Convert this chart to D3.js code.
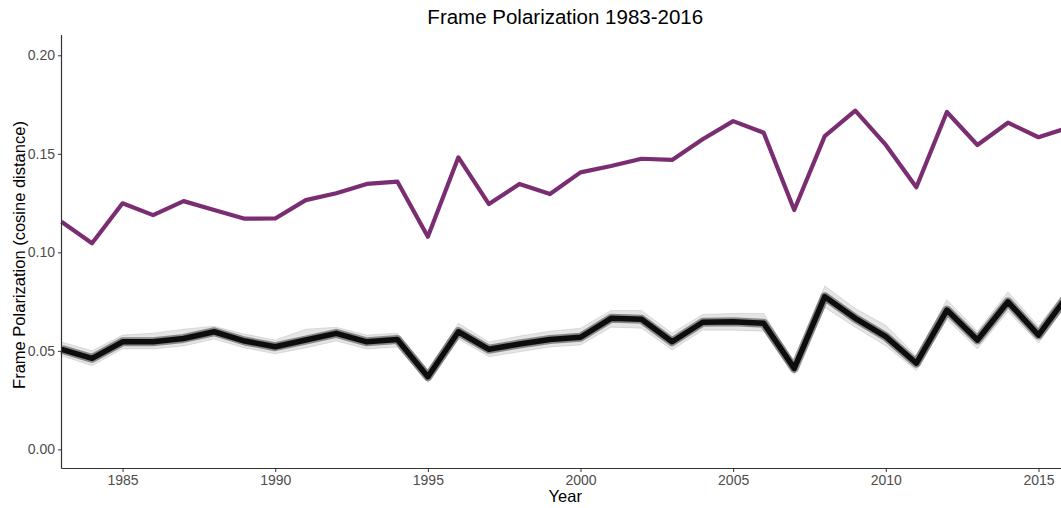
<!DOCTYPE html>
<html>
<head>
<meta charset="utf-8">
<script src="https://cdn.jsdelivr.net/npm/d3@7"></script>
<style>
  html, body { margin: 0; padding: 0; background: #fff; }
  svg { display: block; overflow: hidden; font-family: "Liberation Sans", Arial, sans-serif; }
</style>
</head>
<body>
<div id="chart"></div>
<script>
// years 1983-2016
const years = d3.range(1983, 2017)

// observed frame polarization (purple)
const observed = [0.1155, 0.1046, 0.1249, 0.1189, 0.1260, 0.1215, 0.1171, 0.1172, 0.1265, 0.1300, 0.1347, 0.1359,
  0.1079, 0.1482, 0.1245, 0.1347, 0.1296, 0.1406, 0.1438, 0.1475, 0.1469, 0.1574, 0.1666, 0.1607,
  0.1215, 0.1590, 0.1719, 0.1545, 0.1330, 0.1712, 0.1545, 0.1658, 0.1584, 0.1634]

// permutation bundle: centre line and faint envelope (black)
const permCenter = [0.0508, 0.0462, 0.0546, 0.0546, 0.0563, 0.0597, 0.0550, 0.0521, 0.0555, 0.0589, 0.0546, 0.0558,
  0.0369, 0.0597, 0.0508, 0.0535, 0.0558, 0.0569, 0.0665, 0.0660, 0.0546, 0.0645, 0.0648, 0.0640,
  0.0411, 0.0775, 0.0665, 0.0572, 0.0437, 0.0707, 0.0555, 0.0749, 0.0580, 0.0790]
const permHigh = [0.0545, 0.0500, 0.0580, 0.0590, 0.0610, 0.0625, 0.0585, 0.0555, 0.0610, 0.0620, 0.0580, 0.0590,
  0.0400, 0.0640, 0.0545, 0.0575, 0.0600, 0.0615, 0.0705, 0.0705, 0.0590, 0.0685, 0.0690, 0.0690,
  0.0440, 0.0830, 0.0715, 0.0630, 0.0475, 0.0760, 0.0600, 0.0800, 0.0625, 0.0830]
const permLow = [0.0475, 0.0425, 0.0510, 0.0510, 0.0525, 0.0560, 0.0515, 0.0485, 0.0515, 0.0550, 0.0510, 0.0520,
  0.0340, 0.0560, 0.0470, 0.0495, 0.0520, 0.0530, 0.0620, 0.0615, 0.0505, 0.0605, 0.0605, 0.0600,
  0.0380, 0.0720, 0.0620, 0.0525, 0.0400, 0.0660, 0.0510, 0.0700, 0.0540, 0.0750]

const xTicks = [1985, 1990, 1995, 2000, 2005, 2010, 2015]
const yTicks = [0.00, 0.05, 0.10, 0.15, 0.20]

const W = 1061, H = 508
// plot area runs past the right edge (the picture is cropped there)
const mLeft = 61.5, mRight = 1069, mTop = 35, mBottom = 468.5

const x = d3.scaleLinear().domain([1983, 2016]).range([mLeft, mRight])
const y = d3.scaleLinear().domain([-0.0097, 0.2103]).range([mBottom, mTop])

const svg = d3.select('#chart').append('svg').attr('width', W).attr('height', H)

const line = d3.line().x((d, i) => x(years[i])).y(d => y(d))
const band = d3.area().x((d, i) => x(years[i])).y0((d, i) => y(permLow[i])).y1((d, i) => y(permHigh[i]))

const plot = svg.append('g')

// faint envelope of the bundle
plot.append('path').datum(permCenter).attr('d', band)
  .attr('fill', '#000').attr('fill-opacity', 0.1)
plot.append('path').datum(permHigh).attr('d', line)
  .attr('fill', 'none').attr('stroke', '#000').attr('stroke-opacity', 0.1).attr('stroke-width', 1)
plot.append('path').datum(permLow).attr('d', line)
  .attr('fill', 'none').attr('stroke', '#000').attr('stroke-opacity', 0.1).attr('stroke-width', 1)

// dense core
plot.append('path').datum(permCenter).attr('d', line)
  .attr('fill', 'none').attr('stroke', '#000').attr('stroke-opacity', 0.4).attr('stroke-width', 9)
  .attr('stroke-linejoin', 'round')
plot.append('path').datum(permCenter).attr('d', line)
  .attr('fill', 'none').attr('stroke', '#000').attr('stroke-opacity', 0.9).attr('stroke-width', 5.5)
  .attr('stroke-linejoin', 'round')

// observed
plot.append('path').datum(observed).attr('d', line)
  .attr('fill', 'none').attr('stroke', '#7a2d71').attr('stroke-width', 4.2)
  .attr('stroke-linejoin', 'round')

// axes
const xAxis = svg.append('g').attr('transform', `translate(0,${mBottom})`)
  .call(d3.axisBottom(x).tickValues(xTicks).tickFormat(d3.format('d')).tickSize(3.5).tickPadding(3))
const yAxis = svg.append('g').attr('transform', `translate(${mLeft},0)`)
  .call(d3.axisLeft(y).tickValues(yTicks).tickFormat(d3.format('.2f')).tickSize(3.5).tickPadding(3))

;[xAxis, yAxis].forEach(a => {
  a.select('.domain').attr('stroke', '#333').attr('stroke-width', 1.2)
  a.selectAll('.tick line').attr('stroke', '#333')
  a.selectAll('.tick text').attr('fill', '#4d4d4d').style('font-size', '14px')
    .style('font-family', '"Liberation Sans", Arial, sans-serif')
})
// domain lines without end caps
xAxis.select('.domain').attr('d', `M${mLeft},0H${mRight}`)
yAxis.select('.domain').attr('d', `M0,${mTop}V${mBottom}`)

// titles
svg.append('text').attr('x', (mLeft + mRight) / 2).attr('y', 24)
  .attr('text-anchor', 'middle').style('font-size', '20.5px').attr('fill', '#000')
  .text('Frame Polarization 1983-2016')
svg.append('text').attr('x', (mLeft + mRight) / 2).attr('y', 502)
  .attr('text-anchor', 'middle').style('font-size', '16.5px').attr('fill', '#000')
  .text('Year')
svg.append('text')
  .attr('transform', `translate(25,255) rotate(-90)`)
  .attr('text-anchor', 'middle').style('font-size', '16.5px').attr('fill', '#000')
  .text('Frame Polarization (cosine distance)')
</script>
</body>
</html>
